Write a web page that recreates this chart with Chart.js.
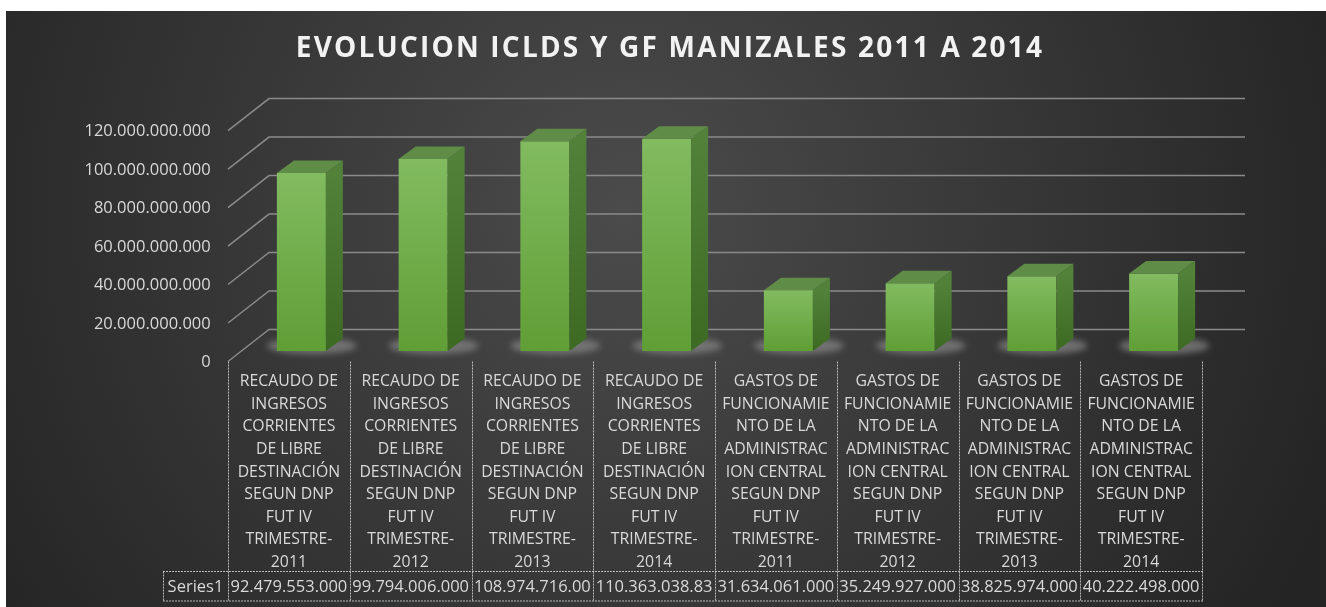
<!DOCTYPE html>
<html>
<head>
<meta charset="utf-8">
<script src="https://cdn.jsdelivr.net/npm/chart.js@4"></script>
<style>
  html, body { margin: 0; padding: 0; background: #fff; }
  #wrap { position: absolute; left: 6px; top: 11px; width: 1320px; height: 596px; }
</style>
</head>
<body>
<div id="wrap"><canvas id="chart" width="1320" height="596"></canvas></div>
<script>
const title = 'EVOLUCION ICLDS Y GF MANIZALES 2011 A 2014';
const seriesName = 'Series1';
const years = ['2011', '2012', '2013', '2014'];
const ingresosLines = ['RECAUDO DE', 'INGRESOS', 'CORRIENTES', 'DE LIBRE', 'DESTINACIÓN', 'SEGUN DNP', 'FUT IV', 'TRIMESTRE-'];
const gastosLines = ['GASTOS DE', 'FUNCIONAMIE', 'NTO DE LA', 'ADMINISTRAC', 'ION CENTRAL', 'SEGUN DNP', 'FUT IV', 'TRIMESTRE-'];
const categories = [
  ...years.map(y => [...ingresosLines, y]),
  ...years.map(y => [...gastosLines, y])
];
const values = [92479553000, 99794006000, 108974716000, 110363038830, 31634061000, 35249927000, 38825974000, 40222498000];
const yMax = 120000000000;
const yStep = 20000000000;

const fmt = n => String(Math.round(n)).replace(/\B(?=(\d{3})+(?!\d))/g, '.');

// fake 3D depth
const DX = 17, DY = 12.5;      // bar depth
const SHIFT = 12.5;            // bars sit behind the front plane
const FRONT = 10.5, BACK = 21.5;

const ctx = document.getElementById('chart').getContext('2d');

const decor = {
  id: 'decor',
  beforeDraw(chart) {
    const c = chart.ctx;
    const g = c.createRadialGradient(620, 200, 0, 620, 200, 760);
    g.addColorStop(0, '#4b4b4b');
    g.addColorStop(1, '#242424');
    c.save();
    c.fillStyle = g;
    c.fillRect(0, 0, chart.width, chart.height);
    c.fillStyle = '#f2f2f2';
    c.font = 'bold 28px "Open Sans"';
    c.letterSpacing = '2.2px';
    c.textAlign = 'center';
    c.textBaseline = 'alphabetic';
    c.fillText(title, 664, 46.3);
    c.restore();
  },
  beforeDatasetsDraw(chart) {
    const c = chart.ctx, a = chart.chartArea, ys = chart.scales.y;
    const fx = a.left - SHIFT, bx = a.left + 28.5, rx = a.right + 30.5;
    c.save();
    c.strokeStyle = '#8a8a8a';
    c.lineWidth = 1.5;
    for (let v = 0; v <= yMax; v += yStep) {
      const y = ys.getPixelForValue(v);
      c.beginPath();
      c.moveTo(fx, y + FRONT);
      c.lineTo(bx, y - BACK);
      c.lineTo(rx, y - BACK);
      c.stroke();
    }
    // shadows under the bars
    const meta = chart.getDatasetMeta(0);
    c.filter = 'blur(3px)';
    c.fillStyle = 'rgba(135,135,135,0.7)';
    meta.data.forEach(b => {
      const x0 = b.x - b.width / 2;
      c.beginPath();
      c.ellipse(x0 + (b.width + DX) / 2 + 2, b.base - DY / 2 + 1, (b.width + DX) / 2 + 12, 8.5, 0, 0, Math.PI * 2);
      c.fill();
    });
    c.restore();
  },
  afterDatasetsDraw(chart) {
    const c = chart.ctx;
    const meta = chart.getDatasetMeta(0);
    c.save();
    meta.data.forEach(b => {
      const x0 = b.x - b.width / 2, x1 = b.x + b.width / 2, top = b.y, base = b.base;
      const sg = c.createLinearGradient(0, top, 0, base);
      sg.addColorStop(0, '#52823a');
      sg.addColorStop(1, '#3d6a23');
      c.fillStyle = sg;
      c.beginPath();
      c.moveTo(x1, top);
      c.lineTo(x1 + DX, top - DY);
      c.lineTo(x1 + DX, base - DY);
      c.lineTo(x1, base);
      c.closePath();
      c.fill();
      c.fillStyle = '#5f8c46';
      c.beginPath();
      c.moveTo(x0, top);
      c.lineTo(x0 + DX, top - DY);
      c.lineTo(x1 + DX, top - DY);
      c.lineTo(x1, top);
      c.closePath();
      c.fill();
    });
    c.restore();
  },
  afterDraw(chart) {
    const c = chart.ctx, a = chart.chartArea;
    const n = categories.length;
    const w = (a.right - a.left) / n;
    const left = a.left - SHIFT;
    const top = chart.scales.y.getPixelForValue(0) + FRONT;
    const rowTop = 560.5, rowBot = 590, headLeft = 157;
    c.save();
    c.strokeStyle = 'rgba(210,210,210,0.85)';
    c.lineWidth = 1;
    c.setLineDash([2, 1]);
    c.beginPath();
    for (let i = 0; i <= n; i++) {
      const x = Math.round(left + i * w) + 0.5;
      c.moveTo(x, top);
      c.lineTo(x, rowBot);
    }
    c.moveTo(headLeft + 0.5, rowTop);
    c.lineTo(headLeft + 0.5, rowBot);
    c.moveTo(headLeft, rowTop);
    c.lineTo(left + n * w + 1, rowTop);
    c.moveTo(headLeft, rowBot);
    c.lineTo(left + n * w + 1, rowBot);
    c.stroke();
    c.setLineDash([]);

    c.fillStyle = '#d9d9d9';
    c.font = '16.5px "Open Sans"';
    c.textBaseline = 'middle';
    const ty = (rowTop + rowBot) / 2 + 1;
    c.textAlign = 'center';
    c.fillText(seriesName, (headLeft + left) / 2, ty);
    values.forEach((v, i) => {
      let s = fmt(v);
      const x0 = left + i * w;
      // cell text is cut at a whole character when it does not fit
      while (s.length > 1 && c.measureText(s).width > w - 1) s = s.slice(0, -1);
      c.fillText(s, x0 + w / 2, ty);
    });
    c.restore();
  }
};

new Chart(ctx, {
  type: 'bar',
  data: {
    labels: categories,
    datasets: [{
      label: seriesName,
      data: values,
      categoryPercentage: 1,
      barPercentage: 0.4025,
      borderWidth: 0,
      backgroundColor: c => {
        const ch = c.chart, a = ch.chartArea;
        if (!a || c.raw === undefined) return '#70ad47';
        const y = ch.scales.y.getPixelForValue(c.raw);
        const g = ch.ctx.createLinearGradient(0, y, 0, a.bottom);
        g.addColorStop(0, '#82bb60');
        g.addColorStop(1, '#5f9f35');
        return g;
      }
    }]
  },
  options: {
    responsive: false,
    animation: false,
    devicePixelRatio: 1,
    layout: { padding: { top: 109.1, right: 111.5, left: 0, bottom: 0 } },
    plugins: { legend: { display: false }, tooltip: { enabled: false } },
    scales: {
      x: {
        grid: { display: false, drawTicks: false },
        border: { display: false },
        ticks: {
          color: '#d9d9d9',
          font: { family: 'Open Sans', size: 15.8, lineHeight: 1.43 },
          padding: 19.5,
          labelOffset: -SHIFT,
          autoSkip: false,
          maxRotation: 0,
          minRotation: 0
        },
        afterFit: s => { s.height = 256; }
      },
      y: {
        min: 0,
        max: yMax,
        grid: { display: false, drawTicks: false },
        border: { display: false },
        ticks: {
          stepSize: yStep,
          color: '#d9d9d9',
          font: { family: 'Open Sans', size: 16.5 },
          padding: 29.8,
          labelOffset: 11.5,
          callback: v => fmt(v)
        },
        afterFit: s => { s.width = 234.5; }
      }
    }
  },
  plugins: [decor]
});
</script>
</body>
</html>
